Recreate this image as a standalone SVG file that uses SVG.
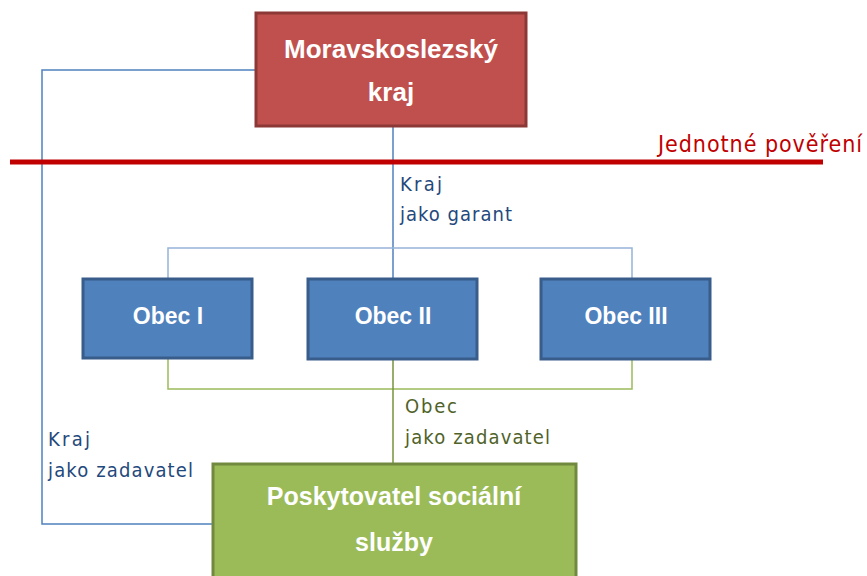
<svg xmlns="http://www.w3.org/2000/svg" width="867" height="576" viewBox="0 0 867 576">
<style>
.box text{font-family:"Liberation Sans",Arial,sans-serif;font-weight:bold;fill:#fff;text-anchor:middle}
.lbl{font-family:"DejaVu Sans Condensed","Liberation Sans",sans-serif;font-size:20px}
.blue{fill:#1F497D}
.olive{fill:#4F6228}
</style>
<rect width="867" height="576" fill="#fff"/>
<g id="connectors" fill="none">
<polyline points="255,70 42,70 42,524 212,524" stroke="#4F81BD" stroke-width="1.5"/>
<line x1="393" y1="127" x2="393" y2="278" stroke="#4F81BD" stroke-width="1.5"/>
<polyline points="168,278 168,248 632,248 632,278" stroke="#95B3D7" stroke-width="1.5"/>
<polyline points="168,358 168,389 632,389 632,360" stroke="#9BBB59" stroke-width="1.5"/>
<line x1="393" y1="360" x2="393" y2="463" stroke="#77933C" stroke-width="1.5"/>
<line x1="10" y1="162" x2="823" y2="162" stroke="#C00000" stroke-width="5"/>
</g>
<g id="kraj" class="box">
<rect x="256" y="13" width="270" height="113" fill="#C0504D" stroke="#8C3836" stroke-width="3"/>
<text x="391" y="58" font-size="26">Moravskoslezský</text>
<text x="391" y="101" font-size="26">kraj</text>
</g>
<g id="obec1" class="box">
<rect x="83" y="279" width="169" height="79" fill="#4F81BD" stroke="#385D8A" stroke-width="3"/>
<text x="168" y="324" font-size="23">Obec I</text>
</g>
<g id="obec2" class="box">
<rect x="308" y="279" width="169" height="80" fill="#4F81BD" stroke="#385D8A" stroke-width="3"/>
<text x="393" y="324" font-size="23">Obec II</text>
</g>
<g id="obec3" class="box">
<rect x="541" y="279" width="169" height="80" fill="#4F81BD" stroke="#385D8A" stroke-width="3"/>
<text x="626" y="324" font-size="23">Obec III</text>
</g>
<g id="poskytovatel" class="box">
<rect x="213" y="464" width="363" height="120" fill="#9BBB59" stroke="#71893F" stroke-width="3"/>
<text x="394" y="505" font-size="25">Poskytovatel sociální</text>
<text x="394" y="551" font-size="25">služby</text>
</g>
<g id="labels">
<text x="658" y="152" font-family="DejaVu Sans Condensed,Liberation Sans,sans-serif" font-size="23" fill="#C00000" textLength="204" lengthAdjust="spacing">Jednotné pověření</text>
<text class="lbl blue" x="400" y="191" textLength="42" lengthAdjust="spacing">Kraj</text>
<text class="lbl blue" x="400" y="221" textLength="112" lengthAdjust="spacing">jako garant</text>
<text class="lbl olive" x="405" y="413" textLength="52" lengthAdjust="spacing">Obec</text>
<text class="lbl olive" x="405" y="444" textLength="145" lengthAdjust="spacing">jako zadavatel</text>
<text class="lbl blue" x="48" y="446" textLength="42" lengthAdjust="spacing">Kraj</text>
<text class="lbl blue" x="48" y="477" textLength="145" lengthAdjust="spacing">jako zadavatel</text>
</g>
</svg>
